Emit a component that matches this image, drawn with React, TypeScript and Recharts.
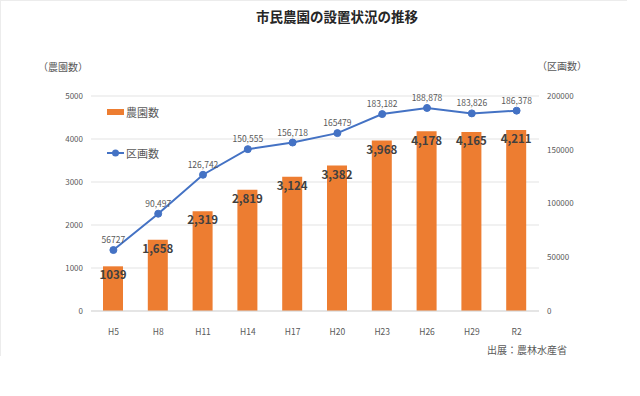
import React from "react";
import {
  ComposedChart,
  Bar,
  Line,
  XAxis,
  YAxis,
  CartesianGrid,
  LabelList,
  Legend,
} from "recharts";

const categories = ["H5", "H8", "H11", "H14", "H17", "H20", "H23", "H26", "H29", "R2"];
const farmCounts = [1039, 1658, 2319, 2819, 3124, 3382, 3968, 4178, 4165, 4211];
const farmLabels = ["1039", "1,658", "2,319", "2,819", "3,124", "3,382", "3,968", "4,178", "4,165", "4,211"];
const plotCounts = [56727, 90497, 126742, 150555, 156718, 165479, 183182, 188878, 183826, 186378];
const plotLabels = ["56727", "90,497", "126,742", "150,555", "156,718", "165479", "183,182", "188,878", "183,826", "186,378"];
const leftTicks = [0, 1000, 2000, 3000, 4000, 5000];
const rightTicks = [0, 50000, 100000, 150000, 200000];

const data = categories.map((c, i) => ({
  name: c,
  farms: farmCounts[i],
  farmLabel: farmLabels[i],
  plots: plotCounts[i],
  plotLabel: plotLabels[i],
}));

const FONT = "'Noto Sans CJK JP', 'Noto Sans', sans-serif";
const ORANGE = "#ED7D31";
const BLUE = "#4472C4";
const GRAY = "#595959";

const LegendContent = () => (
  <div style={{ fontFamily: FONT, fontSize: 11, color: GRAY, textAlign: "left" }}>
    <div style={{ display: "flex", alignItems: "center", height: 16 }}>
      <svg width={19} height={10}>
        <rect x={0} y={2} width={17} height={6} fill={ORANGE} />
      </svg>
      <span>農園数</span>
    </div>
    <div style={{ display: "flex", alignItems: "center", height: 16, marginTop: 25 }}>
      <svg width={19} height={10}>
        <line x1={0} y1={5} x2={17} y2={5} stroke={BLUE} strokeWidth={2} />
        <circle cx={8.5} cy={5} r={3.5} fill={BLUE} />
      </svg>
      <span>区画数</span>
    </div>
  </div>
);

export default function App() {
  return (
    <div style={{ position: "absolute", left: 0, top: 0, width: 640, height: 396, background: "#fff", fontFamily: FONT }}>
      <div
        style={{
          position: "absolute",
          left: 0,
          top: 0,
          width: 627,
          height: 356,
          borderTop: "1px solid #ececec",
          borderLeft: "1px solid #ececec",
          boxSizing: "border-box",
        }}
      />
      <div
        style={{
          position: "absolute",
          left: 237,
          width: 200,
          top: 7,
          textAlign: "center",
          fontSize: 13.5,
          fontWeight: 700,
          color: "#262626",
          lineHeight: "18px",
        }}
      >
        市民農園の設置状況の推移
      </div>
      <div style={{ position: "absolute", left: 33, width: 60, top: 60, textAlign: "center", fontSize: 10, color: GRAY, lineHeight: "14px" }}>
        （農園数）
      </div>
      <div style={{ position: "absolute", left: 532, width: 60, top: 59, textAlign: "center", fontSize: 10, color: GRAY, lineHeight: "14px" }}>
        （区画数）
      </div>
      <div style={{ position: "absolute", left: 487, top: 343, fontSize: 10, color: GRAY, lineHeight: "14px" }}>
        出展：農林水産省
      </div>
      <ComposedChart
        width={640}
        height={396}
        data={data}
        margin={{ top: 96, right: 0, bottom: 0, left: 0 }}
        style={{ position: "absolute", left: 0, top: 0 }}
      >
        <CartesianGrid yAxisId="left" vertical={false} stroke="#e3e3e3" strokeWidth={1} />
        <XAxis
          dataKey="name"
          height={85}
          axisLine={{ stroke: "#d9d9d9" }}
          tickLine={false}
          tickSize={0}
          tickMargin={18}
          tick={{ fontSize: 8.5, fill: GRAY, fontFamily: FONT }}
          interval={0}
        />
        <YAxis
          yAxisId="left"
          orientation="left"
          width={91}
          domain={[0, 5000]}
          ticks={leftTicks}
          axisLine={false}
          tickLine={false}
          tickSize={0}
          tickMargin={8}
          tick={{ fontSize: 8, fill: GRAY, fontFamily: FONT }}
        />
        <YAxis
          yAxisId="right"
          orientation="right"
          width={101}
          domain={[0, 200000]}
          ticks={rightTicks}
          axisLine={false}
          tickLine={false}
          tickSize={0}
          tickMargin={8}
          tick={{ fontSize: 8, fill: GRAY, fontFamily: FONT, textAnchor: "start" }}
        />
        <Legend
          layout="horizontal"
          verticalAlign="middle"
          align="center"
          content={<LegendContent />}
          wrapperStyle={{ position: "absolute", left: 107, top: 104, width: 80, height: 60 }}
        />
        <Bar yAxisId="left" dataKey="farms" fill={ORANGE} barSize={20} isAnimationActive={false}>
          <LabelList
            dataKey="farmLabel"
            position="insideTop"
            offset={5}
            style={{ fontSize: 11.5, fontWeight: 700, fill: "#404040", fontFamily: FONT }}
          />
        </Bar>
        <Line
          yAxisId="right"
          dataKey="plots"
          stroke={BLUE}
          strokeWidth={2}
          dot={{ r: 3.5, fill: BLUE, stroke: BLUE, strokeWidth: 1 }}
          isAnimationActive={false}
        >
          <LabelList
            dataKey="plotLabel"
            position="top"
            offset={7}
            style={{ fontSize: 8.5, fill: GRAY, fontFamily: FONT }}
          />
        </Line>
      </ComposedChart>
    </div>
  );
}
